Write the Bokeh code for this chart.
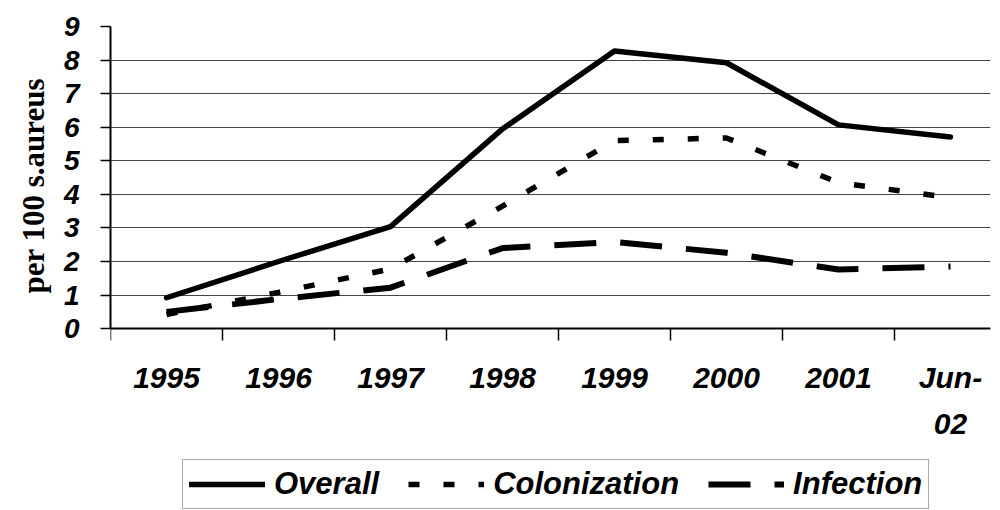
from bokeh.plotting import figure
from bokeh.models import Range1d, FixedTicker, Legend, Title
from bokeh.embed import file_html
from bokeh.resources import INLINE

categories = ["1995", "1996", "1997", "1998", "1999", "2000", "2001", "Jun-02"]
overall = [0.92, 2.0, 3.04, 5.95, 8.27, 7.92, 6.07, 5.71]
colonization = [0.42, 1.08, 1.78, 3.65, 5.6, 5.68, 4.35, 3.9]
infection = [0.5, 0.88, 1.22, 2.4, 2.58, 2.26, 1.76, 1.85]
y_ticks = [0, 1, 2, 3, 4, 5, 6, 7, 8, 9]

xs = list(range(len(categories)))

# frame extends to the bottom of the page so the legend can sit under the axis
p = figure(frame_width=880, frame_height=484, output_backend="svg", toolbar_location=None,
           x_range=Range1d(-0.5, 7.357), y_range=Range1d(-5.417, 9),
           min_border_left=110, min_border_top=26, min_border_right=8,
           min_border_bottom=0)
p.outline_line_color = None
p.background_fill_color = "white"
p.border_fill_color = "white"

r1 = p.line(xs, overall, line_color="black", line_width=5.5, line_join="round", line_cap="round")
r2 = p.line(xs, colonization, line_color="black", line_width=5.5, line_dash="11 24")
r3 = p.line(xs, infection, line_color="black", line_width=6, line_dash="42 24")

p.xgrid.grid_line_color = None
p.ygrid.ticker = FixedTicker(ticks=y_ticks)
p.ygrid.grid_line_color = "#444444"
p.ygrid.grid_line_width = 1.2

xa = p.xaxis[0]
xa.fixed_location = 0
xa.ticker = FixedTicker(ticks=xs, minor_ticks=[i - 0.5 for i in range(len(categories) + 1)])
xa.major_label_overrides = {i: (c if c != "Jun-02" else "Jun-\n02") for i, c in enumerate(categories)}
xa.major_tick_out = 0
xa.major_tick_in = 0
xa.minor_tick_out = 12
xa.minor_tick_in = 0
xa.minor_tick_line_color = "black"
xa.minor_tick_line_width = 1.5
xa.axis_line_width = 2
xa.axis_line_color = "black"
xa.major_label_standoff = 20
xa.major_label_text_font = "Liberation Sans"
xa.major_label_text_font_style = "bold italic"
xa.major_label_text_font_size = "30px"
xa.major_label_text_color = "black"
xa.major_label_text_line_height = 1.4

ya = p.yaxis[0]
ya.ticker = FixedTicker(ticks=y_ticks)
ya.bounds = (0, 9)
ya.minor_tick_line_color = None
ya.major_tick_out = 10
ya.major_tick_in = 0
ya.major_tick_line_width = 1.5
ya.axis_line_width = 2
ya.axis_line_color = "black"
ya.major_label_standoff = 21
ya.major_label_text_font = "Liberation Sans"
ya.major_label_text_font_style = "bold italic"
ya.major_label_text_font_size = "28px"
ya.major_label_text_color = "black"

# y-axis title: starts at the bottom of the panel, shifted up so it spans the 0..9 scale
ytitle = Title(text="per 100 s.aureus", align="left", offset=217, standoff=20,
               text_font="Liberation Serif", text_font_size="31px",
               text_font_style="bold", text_color="black")
p.add_layout(ytitle, "left")

legend = Legend(items=[("Overall", [r1]), ("Colonization", [r2]), ("Infection", [r3])],
                orientation="horizontal", location=(72, 1),
                glyph_width=76, glyph_height=20, label_standoff=9, spacing=29, padding=6,
                label_text_font="Liberation Sans", label_text_font_style="bold italic",
                label_text_font_size="31px", label_text_color="black",
                border_line_color="#555555", border_line_width=1, margin=0,
                background_fill_color="white")
p.add_layout(legend, "center")

open("out.html", "w").write(file_html(p, INLINE))
